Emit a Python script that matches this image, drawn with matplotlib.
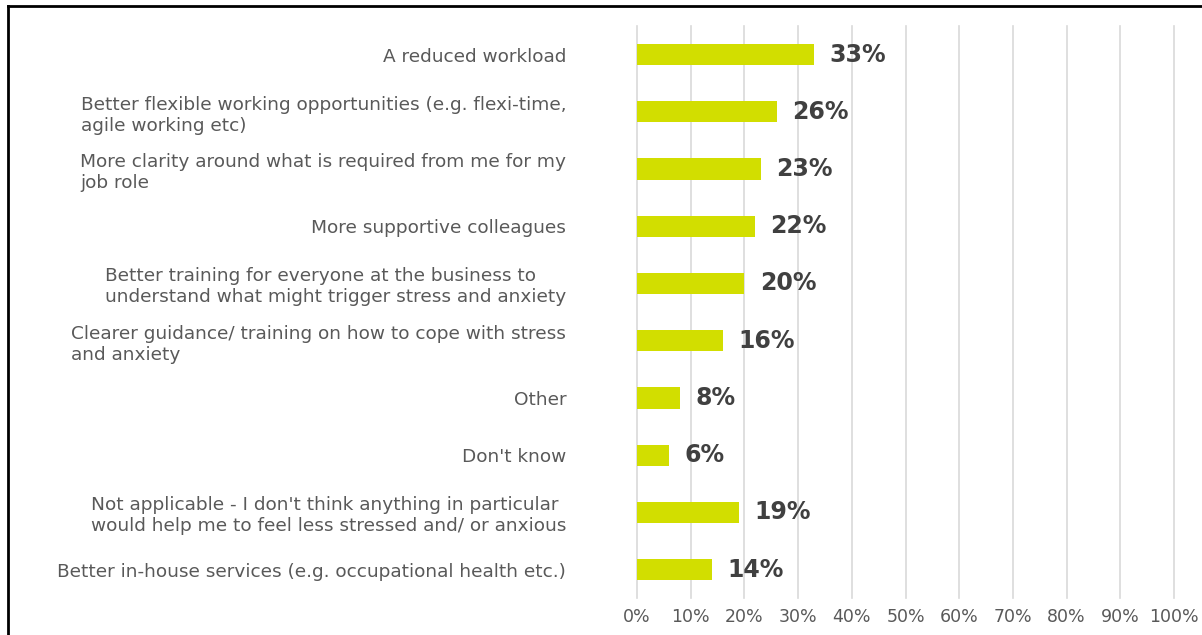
import matplotlib
matplotlib.use('Agg')
import matplotlib.pyplot as plt
from matplotlib.lines import Line2D
import numpy as np

plt.rcParams['font.family'] = ['DejaVu Sans']

# answers, top to bottom as shown
labels = [
    "A reduced workload",
    "Better flexible working opportunities (e.g. flexi-time,\nagile working etc)",
    "More clarity around what is required from me for my\njob role",
    "More supportive colleagues",
    "Better training for everyone at the business to\nunderstand what might trigger stress and anxiety",
    "Clearer guidance/ training on how to cope with stress\nand anxiety",
    "Other",
    "Don't know",
    "Not applicable - I don't think anything in particular\nwould help me to feel less stressed and/ or anxious",
    "Better in-house services (e.g. occupational health etc.)",
]
values = [33, 26, 23, 22, 20, 16, 8, 6, 19, 14]
xticks = list(range(0, 101, 10))

bar_col = '#D2DE00'
txt_col = '#595959'

fig = plt.figure(figsize=(12.02, 6.35), dpi=100)
ax = fig.add_axes([0.53, 0.058, 0.4467, 0.901])

y = np.arange(len(labels))
ax.barh(y, values, height=0.37, color=bar_col, zorder=3)
ax.set_ylim(len(labels) - 0.5, -0.5)
ax.set_xlim(0, 100)

ax.set_xticks(xticks)
ax.set_xticklabels([f"{t}%" for t in xticks], color=txt_col, fontsize=12.5)
ax.xaxis.grid(True, color='#D9D9D9', linewidth=1.2, zorder=0)
for gl in ax.get_xgridlines():
    gl.set_clip_on(False)
ax.tick_params(axis='x', length=0, pad=7)

ax.set_yticks(y)
ax.set_yticklabels(labels, fontsize=13.3, color=txt_col, linespacing=1.2)
for t in ax.get_yticklabels():
    t.set_multialignment('left')
ax.tick_params(axis='y', length=0, pad=51)

for s in ax.spines.values():
    s.set_visible(False)

for yi, v in zip(y, values):
    ax.annotate(f"{v}%", (v, yi), xytext=(11, 0), textcoords='offset points',
                va='center', ha='left', fontsize=17, fontweight='bold', color='#404040')

# frame lines (top and left)
fig.add_artist(Line2D([8 / 1202, 1], [1 - 6 / 635, 1 - 6 / 635], color='black', lw=2, transform=fig.transFigure))
fig.add_artist(Line2D([8 / 1202, 8 / 1202], [0, 1 - 6 / 635], color='black', lw=2, transform=fig.transFigure))

fig.savefig('out.png', dpi=100)
